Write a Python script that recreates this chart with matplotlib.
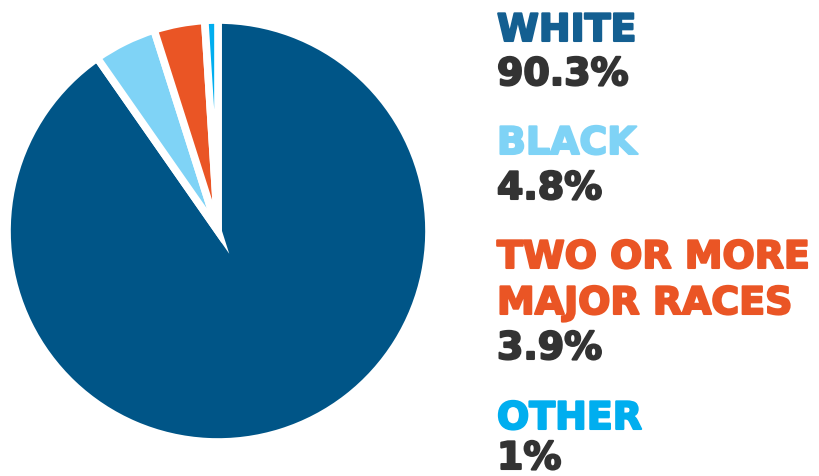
import matplotlib
matplotlib.use("Agg")
import matplotlib.pyplot as plt
import matplotlib.patheffects as pe

categories = ["WHITE", "BLACK", "TWO OR MORE\nMAJOR RACES", "OTHER"]
values = [90.3, 4.8, 3.9, 1.0]
value_labels = ["90.3%", "4.8%", "3.9%", "1%"]
colors = ["#005587", "#7fd3f6", "#ea5525", "#00aeef"]
label_colors = ["#145f91", "#7fd3f6", "#ea5525", "#00aeef"]

W, H = 819, 477
fig = plt.figure(figsize=(W / 100, H / 100), dpi=100)

# pie axes: centre (218, 232), radius 211 in pixels
cx, cy, r = 218, 232, 211
ax = fig.add_axes([(cx - r) / W, 1 - (cy + r) / H, 2 * r / W, 2 * r / H])
ax.pie(values, colors=colors, startangle=90, counterclock=False,
       wedgeprops=dict(edgecolor="white", linewidth=5.5))
ax.set_aspect("equal")
ax.set_xlim(-1, 1)
ax.set_ylim(-1, 1)
ax.axis("off")

# text block on the right, thickened with a same-colour outline
family = ["DejaVu Sans"]
fs = 27.3
x0 = 497 / W
name_lines = [[42], [155], [269, 315], [430]]
num_base = [86, 200, 360, 470]


def heavy_text(y_px, s, color):
    fig.text(x0, 1 - y_px / H, s, fontsize=fs, fontweight="bold",
             family=family, color=color, va="baseline", ha="left",
             path_effects=[pe.withStroke(linewidth=1.5, foreground=color)])


for i, cat in enumerate(categories):
    for line, yb in zip(cat.split("\n"), name_lines[i]):
        heavy_text(yb, line, label_colors[i])
    heavy_text(num_base[i], value_labels[i], "#333333")

fig.savefig("out.png", dpi=100, facecolor="white")
